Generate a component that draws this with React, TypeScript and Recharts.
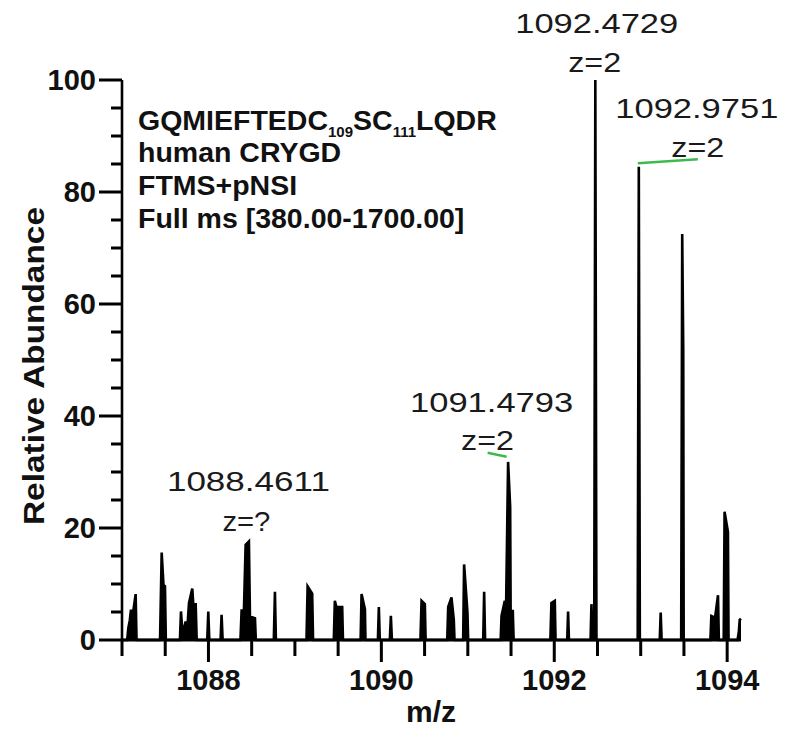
import { ComposedChart, Area, XAxis, YAxis } from "recharts";

// profile spectrum (m/z, relative abundance)
const profileMz = [
  1087.0, 1087.06, 1087.073, 1087.09, 1087.104, 1087.12, 1087.158, 1087.168,
  1087.44, 1087.459, 1087.48, 1087.497, 1087.507,
  1087.67, 1087.682, 1087.7, 1087.736, 1087.752, 1087.775, 1087.813, 1087.83, 1087.852, 1087.864,
  1087.986, 1087.998, 1088.01,
  1088.14, 1088.152, 1088.164,
  1088.37, 1088.384, 1088.405, 1088.43, 1088.468, 1088.48, 1088.52, 1088.538, 1088.548,
  1088.756, 1088.769, 1088.78,
  1089.134, 1089.147, 1089.2, 1089.21,
  1089.45, 1089.462, 1089.48, 1089.547, 1089.556,
  1089.76, 1089.771, 1089.81, 1089.816,
  1089.96, 1089.971, 1089.982,
  1090.098, 1090.11, 1090.122,
  1090.452, 1090.465, 1090.503, 1090.512,
  1090.762, 1090.773, 1090.811, 1090.838, 1090.846,
  1090.946, 1090.957, 1090.996, 1091.004,
  1091.178, 1091.189, 1091.2,
  1091.38, 1091.39, 1091.428, 1091.44, 1091.466, 1091.49, 1091.496, 1091.52, 1091.53,
  1091.955, 1091.967, 1092.006, 1092.015,
  1092.15, 1092.16, 1092.17,
  1092.42, 1092.43, 1092.442,
  1092.462, 1092.475, 1092.488,
  1092.965, 1092.978, 1092.99,
  1093.22, 1093.231, 1093.242,
  1093.468, 1093.48, 1093.492, 1093.497,
  1093.806, 1093.817, 1093.86, 1093.894, 1093.904,
  1093.96, 1093.97, 1094.009, 1094.016,
  1094.12, 1094.135, 1094.145, 1094.16,
];
const profileAbundance = [
  0, 0, 2.1, 3.5, 5.4, 4.0, 8.2, 0,
  0, 15.6, 9.8, 9.6, 0,
  0, 5.1, 1.0, 3.3, 1.2, 6.6, 9.2, 5.0, 6.6, 0,
  0, 5.1, 0,
  0, 4.5, 0,
  0, 5.5, 2.0, 17.0, 17.6, 4.3, 4.0, 3.9, 0,
  0, 8.6, 0,
  0, 9.6, 8.3, 0,
  0, 7.0, 5.9, 5.9, 0,
  0, 8.2, 5.5, 0,
  0, 5.9, 0,
  0, 4.3, 0,
  0, 7.0, 6.4, 0,
  0, 5.9, 7.6, 3.6, 0,
  0, 13.5, 4.9, 0,
  0, 8.6, 0,
  0, 4.3, 7.0, 3.0, 31.8, 23.8, 3.0, 5.4, 0,
  0, 6.6, 7.0, 0,
  0, 5.1, 0,
  0, 6.4, 0,
  0, 100, 0,
  0, 84.5, 0,
  0, 4.9, 0,
  0, 72.5, 51.8, 0,
  0, 4.3, 4.0, 8.0, 0,
  0, 22.9, 19.3, 0,
  0, 1.5, 3.6, 3.8,
];

const xTicks = [1087, 1087.5, 1088, 1088.5, 1089, 1089.5, 1090, 1090.5, 1091, 1091.5, 1092, 1092.5, 1093, 1093.5, 1094];
const xTickLabels = [1088, 1090, 1092, 1094];
const yTicks = [0, 5, 10, 15, 20, 25, 30, 35, 40, 45, 50, 55, 60, 65, 70, 75, 80, 85, 90, 95, 100];
const yTickLabels = [0, 20, 40, 60, 80, 100];

const peakMz = [1088.4611, 1091.4793, 1092.4729, 1092.9751];
const peakAbundance = [17.6, 31.8, 100, 84.5];
const peakLabels = ["1088.4611", "1091.4793", "1092.4729", "1092.9751"];
const peakCharges = ["z=?", "z=2", "z=2", "z=2"];

const infoLines = ["human CRYGD", "FTMS+pNSI", "Full ms [380.00-1700.00]"];

const spectrum = profileMz.map((m, i) => ({ mz: m, abundance: profileAbundance[i] }));

const FONT = "'Liberation Sans', Arial, sans-serif";
const GREEN = "#3dba4e";

// where each peak tag sits relative to its peak top
const tagLayout = [
  { ldx: -0.5, ldy: -50, zdx: -2.5, zdy: -10, zw: 48, line: null },
  { ldx: -16.5, ldy: -50, zdx: -20.5, zdy: -12, zw: 53, line: [-20.5, -9.2, -1.5, -5.2] },
  { ldx: 1.4, ldy: -47, zdx: -0.6, zdy: -8.3, zw: 53, line: null },
  { ldx: 58, ldy: -49, zdx: 59, zdy: -10, zw: 53, line: [-1, -3.5, 59, -7.5] },
];

// tickSize is 0, so x/y arrive on the axis line itself
function XTick(props: any) {
  const x = Number(props.x);
  const y = Number(props.y);
  const v = props.payload.value;
  const labelled = xTickLabels.includes(v);
  return (
    <g>
      <line x1={x} x2={x} y1={y} y2={y + (labelled ? 22 : 16)} stroke="#000" strokeWidth={3} />
      {labelled && (
        <text x={x} y={y + 50} textAnchor="middle" fontFamily={FONT} fontWeight="bold" fontSize={29} fill="#111">
          {v}
        </text>
      )}
    </g>
  );
}

function YTick(props: any) {
  const x = Number(props.x);
  const y = Number(props.y);
  const v = props.payload.value;
  const labelled = yTickLabels.includes(v);
  return (
    <g>
      <line x1={x - (labelled ? 23 : 11)} x2={x} y1={y} y2={y} stroke="#000" strokeWidth={3} />
      {labelled && (
        <text x={x - 26} y={y} dy="0.36em" textAnchor="end" fontFamily={FONT} fontWeight="bold" fontSize={29} fill="#111">
          {v}
        </text>
      )}
    </g>
  );
}

// drawn as the Area's label: only the annotated peak tops get a tag
function PeakTag(props: any) {
  const pt = spectrum[props.index];
  if (!pt) return <g />;
  const i = peakMz.findIndex((m, k) => Math.abs(m - pt.mz) < 0.02 && pt.abundance === peakAbundance[k]);
  if (i < 0) return <g />;
  const cx = Number(props.x);
  const cy = Number(props.y);
  const t = tagLayout[i];
  return (
    <g>
      <text x={cx + t.ldx} y={cy + t.ldy} textAnchor="middle" fontFamily={FONT} fontSize={28} fill="#1a1a1a"
        textLength={163} lengthAdjust="spacingAndGlyphs">
        {peakLabels[i]}
      </text>
      <text x={cx + t.zdx} y={cy + t.zdy} textAnchor="middle" fontFamily={FONT} fontSize={28} fill="#1a1a1a"
        textLength={t.zw} lengthAdjust="spacingAndGlyphs">
        {peakCharges[i]}
      </text>
      {t.line && (
        <line x1={cx + t.line[0]} y1={cy + t.line[1]} x2={cx + t.line[2]} y2={cy + t.line[3]}
          stroke={GREEN} strokeWidth={2.5} />
      )}
    </g>
  );
}

export default function App() {
  return (
    <div style={{ position: "absolute", left: 0, top: 0, width: 785, height: 741, background: "#fff" }}>
      <ComposedChart width={785} height={741} data={spectrum} margin={{ top: 80, right: 44, bottom: 0, left: 0 }}>
        <XAxis
          dataKey="mz"
          type="number"
          domain={[1087, 1094.16]}
          ticks={xTicks}
          interval={0}
          height={101}
          tickSize={0}
          tickMargin={0}
          tickLine={false}
          tick={<XTick />}
          axisLine={{ stroke: "#000", strokeWidth: 3 }}
        />
        <YAxis
          type="number"
          domain={[0, 100]}
          ticks={yTicks}
          interval={0}
          width={122}
          tickSize={0}
          tickMargin={0}
          tickLine={false}
          tick={<YTick />}
          axisLine={{ stroke: "#000", strokeWidth: 2.6 }}
        />
        <Area
          type="linear"
          dataKey="abundance"
          stroke="#000"
          strokeWidth={2.6}
          fill="#000"
          fillOpacity={1}
          baseValue={0}
          isAnimationActive={false}
          label={(p: any) => <PeakTag key={`tag-${p.index}`} {...p} />}
        />
      </ComposedChart>
      <svg width={785} height={741} style={{ position: "absolute", left: 0, top: 0, pointerEvents: "none" }}>
        <text x={138} y={130} fontFamily={FONT} fontWeight="bold" fontSize={28.5} fill="#111">
          GQMIEFTEDC
          <tspan fontSize={15} dy={7}>109</tspan>
          <tspan dy={-7}>SC</tspan>
          <tspan fontSize={15} dy={7}>111</tspan>
          <tspan dy={-7}>LQDR</tspan>
        </text>
        {infoLines.map((s, i) => (
          <text key={s} x={138} y={162 + i * 33} fontFamily={FONT} fontWeight="bold" fontSize={28.5} fill="#111">
            {s}
          </text>
        ))}
        <text x={431} y={722} textAnchor="middle" fontFamily={FONT} fontWeight="bold" fontSize={30} fill="#111">
          m/z
        </text>
        <text transform="translate(44, 366) rotate(-90)" textAnchor="middle" fontFamily={FONT} fontWeight="bold"
          fontSize={29} fill="#111" textLength={318} lengthAdjust="spacingAndGlyphs">
          Relative Abundance
        </text>
      </svg>
    </div>
  );
}
